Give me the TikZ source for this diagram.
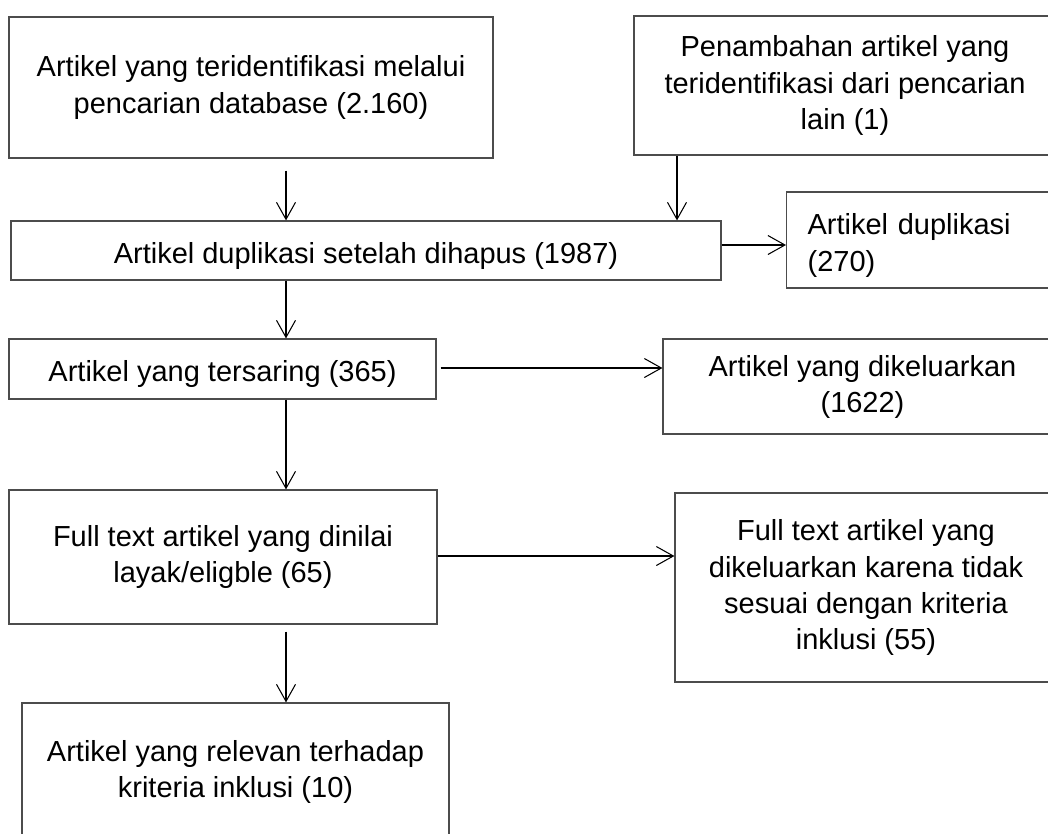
\documentclass[tikz,border=0pt]{standalone}
\usepackage{fontspec}
\setmainfont{Liberation Sans}
\usetikzlibrary{arrows.meta}
\tikzset{
  kotak/.style={draw=black!70, line width=0.7pt, inner sep=0pt, align=center,
    font=\fontsize{16.5}{20.5}\selectfont,
    execute at begin node={\rule{0pt}{0.64cm}}},
  panah/.style={-{Straight Barb[length=0.34cm, width=0.38cm]}, line width=0.6pt}
}
\begin{document}
\begin{tikzpicture}[x=0.02cm, y=-0.02cm]
    \useasboundingbox (0,0) rectangle (1048,833);

    \node[kotak, minimum width=9.68cm, minimum height=2.82cm] (ident) at (251,87.5)
        {Artikel yang teridentifikasi melalui\\pencarian database (2.160)};
    \node[kotak, minimum width=8.44cm, minimum height=2.78cm] (lain) at (845,85.5)
        {Penambahan artikel yang\\teridentifikasi dari pencarian\\lain (1)};
    \node[kotak, minimum width=14.2cm, minimum height=1.18cm] (hapus) at (366,250.5)
        {Artikel duplikasi setelah dihapus (1987)};
    \node[kotak, anchor=west, align=left, text width=4.5cm, inner xsep=0.42cm,
        minimum height=1.92cm] (duplikat) at (786,240)
        {Artikel duplikasi\\(270)};
    \node[kotak, minimum width=8.54cm, minimum height=1.2cm] (saring) at (222.5,369)
        {Artikel yang tersaring (365)};
    \node[kotak, minimum width=7.98cm, minimum height=1.9cm] (keluar) at (862.5,386.5)
        {Artikel yang dikeluarkan\\(1622)};
    \node[kotak, minimum width=8.56cm, minimum height=2.68cm] (layak) at (223,557)
        {Full text artikel yang dinilai\\layak/eligble (65)};
    \node[kotak, minimum width=7.64cm, minimum height=3.78cm] (tolak) at (866,587.5)
        {Full text artikel yang\\dikeluarkan karena tidak\\sesuai dengan kriteria\\inklusi (55)};
    \node[kotak, minimum width=8.54cm, minimum height=2.76cm] (relevan) at (235.5,772)
        {Artikel yang relevan terhadap\\kriteria inklusi (10)};

    \coordinate (kolom_a) at (286,0);
    \coordinate (kolom_b) at (677,0);
    \coordinate (baris_a) at (0,245);
    \coordinate (baris_b) at (0,368);
    \coordinate (baris_c) at (0,556);

    \draw[panah, shorten <=0.24cm] (ident.south -| kolom_a) -- (hapus.north -| kolom_a);
    \draw[panah] (lain.south -| kolom_b) -- (hapus.north -| kolom_b);
    \draw[panah] (hapus.east |- baris_a) -- (duplikat.west |- baris_a);
    \draw[panah] (hapus.south -| kolom_a) -- (saring.north -| kolom_a);
    \draw[panah, shorten <=0.08cm] (saring.east |- baris_b) -- (keluar.west |- baris_b);
    \draw[panah] (saring.south -| kolom_a) -- (layak.north -| kolom_a);
    \draw[panah] (layak.east |- baris_c) -- (tolak.west |- baris_c);
    \draw[panah, shorten <=0.14cm] (layak.south -| kolom_a) -- (relevan.north -| kolom_a);
\end{tikzpicture}
\end{document}
